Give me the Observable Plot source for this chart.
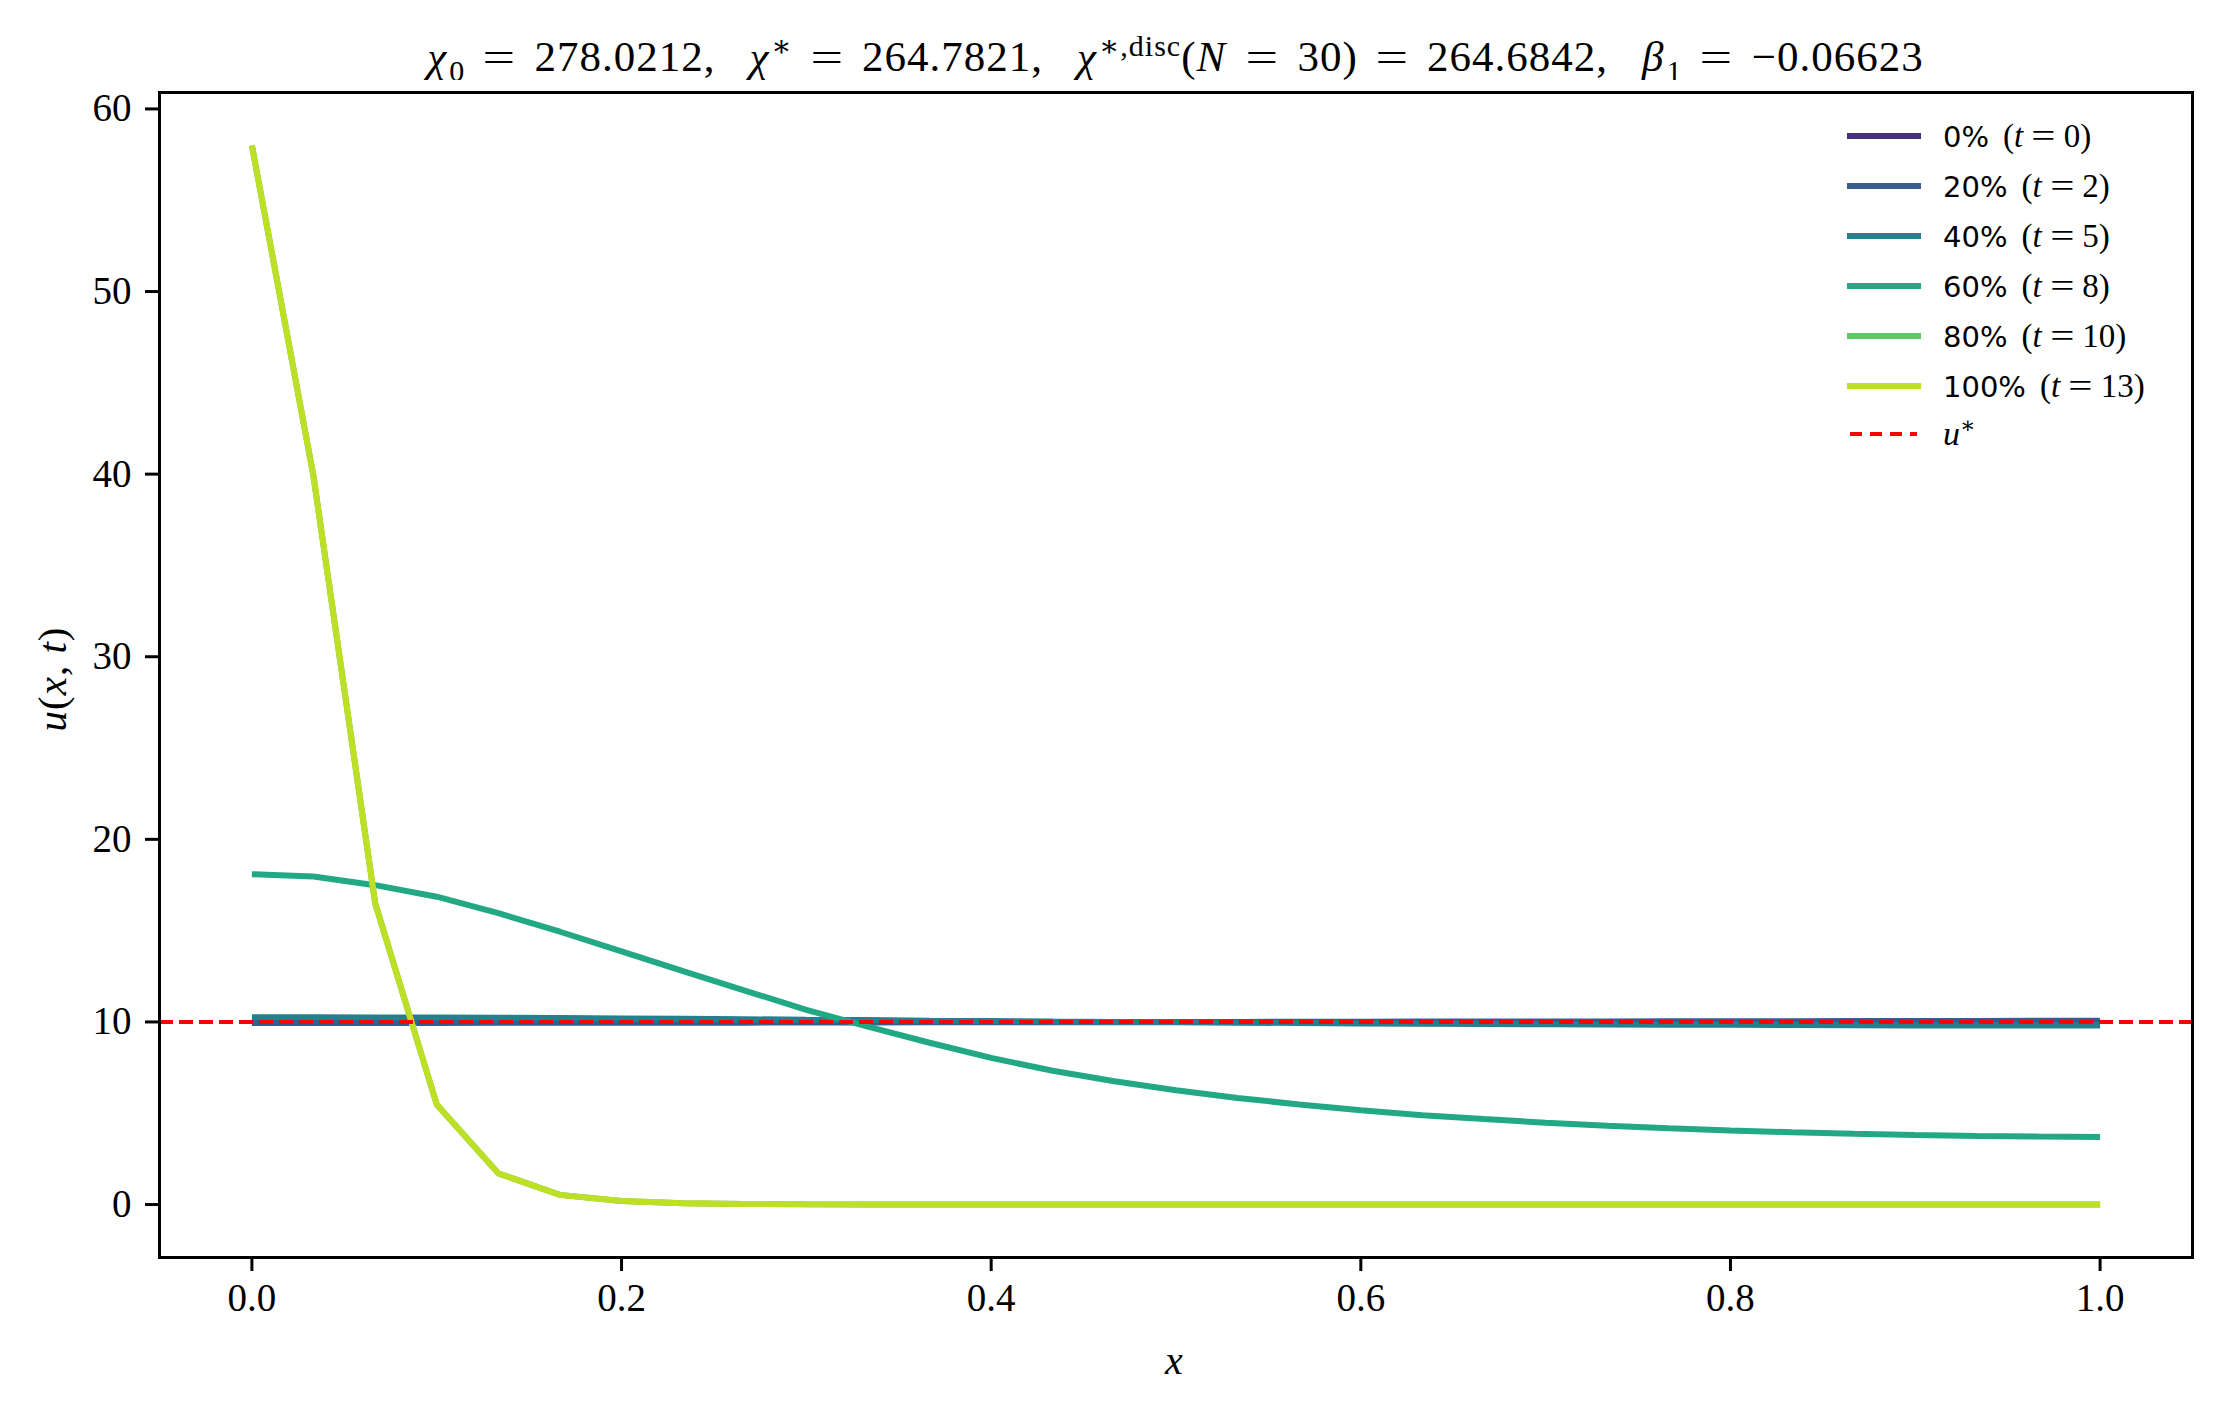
<!DOCTYPE html>
<html>
<head>
<meta charset="utf-8">
<script src="https://cdn.jsdelivr.net/npm/d3@7"></script>
<script src="https://cdn.jsdelivr.net/npm/@observablehq/plot@0.6"></script>
<style>
  html, body { margin: 0; padding: 0; background: #fff; }
  #wrap { position: relative; width: 2220px; height: 1409px; overflow: hidden; background: #fff; }
  .serif { font-family: "Liberation Serif", "DejaVu Serif", serif; }
  #title { position: absolute; left: 159px; width: 2033px; top: 35px; text-align: center; font-size: 43px; line-height: 43px; letter-spacing: 1px; color: #000; white-space: nowrap; }
  #title .eq { display: inline-block; margin: 0 22px; transform: scaleX(1.35); }
  #title .gap { display: inline-block; width: 34px; }
  #title i { margin-right: 2px; }
  #chart { position: absolute; left: 0; top: 80px; }
  #legend { position: absolute; left: 1847px; top: 111px; }
  .row { position: absolute; left: 0; height: 50px; width: 360px; display: flex; align-items: center; }
  .sample { position: absolute; left: 0; width: 74px; }
  .lbl { position: absolute; left: 96px; white-space: nowrap; font-size: 29px; color: #000; }
  .sans { font-family: "DejaVu Sans", sans-serif; margin-right: 14px; }
  .lbl .eq { display: inline-block; margin: 0 11px; transform: scaleX(1.3); }
  #ylabel { position: absolute; left: 52px; top: 679px; transform: translate(-50%, -50%) rotate(-90deg); font-size: 41px; letter-spacing: 1px; white-space: nowrap; }
  #xlabel { position: absolute; left: 1174px; top: 1337px; transform: translateX(-50%); font-size: 40px; }
  sub, sup { line-height: 0; }
</style>
</head>
<body>
<div id="wrap">
  <div id="title" class="serif"><i>χ</i><sub style="font-size:30px">0</sub><span class="eq">=</span>278.0212,<span class="gap"></span><i>χ</i><sup style="font-size:30px">∗</sup><span class="eq">=</span>264.7821,<span class="gap"></span><i>χ</i><sup style="font-size:30px">∗,disc</sup>(<i>N</i><span class="eq">=</span>30)<span class="eq">=</span>264.6842,<span class="gap"></span><i>β</i><sub style="font-size:30px">1</sub><span class="eq">=</span>−0.06623</div>
  <div id="chart"></div>
  <div id="legend"></div>
  <div id="ylabel" class="serif"><i>u</i>(<i>x</i>, <i>t</i>)</div>
  <div id="xlabel" class="serif"><i>x</i></div>
</div>
<script>
// ---- data ----
const xs = [0, 0.0333, 0.0667, 0.1, 0.1333, 0.1667, 0.2, 0.2333, 0.2667, 0.3, 0.3333,
            0.3667, 0.4, 0.4333, 0.4667, 0.5, 0.5333, 0.5667, 0.6, 0.6333, 0.6667,
            0.7, 0.7333, 0.7667, 0.8, 0.8333, 0.8667, 0.9, 0.9333, 0.9667, 1];

const u0   = [10, 10, 10, 10, 10, 10, 10, 10, 10, 10, 10, 10, 10, 10, 10, 10,
              10, 10, 10, 10, 10, 10, 10, 10, 10, 10, 10, 10, 10, 10, 10];
const u20  = [9.94, 9.94, 9.94, 9.94, 9.95, 9.95, 9.95, 9.96, 9.96, 9.97, 9.97,
              9.98, 9.98, 9.99, 9.99, 10.0, 10.0, 10.01, 10.01, 10.02, 10.02,
              10.03, 10.03, 10.04, 10.04, 10.04, 10.05, 10.05, 10.05, 10.06, 10.06];
const u40  = [10.26, 10.26, 10.25, 10.24, 10.23, 10.21, 10.19, 10.17, 10.15, 10.12, 10.10,
              10.07, 10.05, 10.02, 10.0, 9.98, 9.96, 9.94, 9.92, 9.90, 9.89,
              9.87, 9.86, 9.85, 9.84, 9.83, 9.82, 9.81, 9.81, 9.80, 9.80];
const u60  = [18.09, 17.97, 17.49, 16.86, 15.96, 14.94, 13.87, 12.78, 11.72, 10.66, 9.74,
              8.86, 8.03, 7.33, 6.75, 6.26, 5.84, 5.48, 5.17, 4.89, 4.68,
              4.48, 4.32, 4.18, 4.06, 3.96, 3.88, 3.81, 3.76, 3.72, 3.70];
const u80  = [58.0, 39.9, 16.5, 5.48, 1.71, 0.53, 0.2, 0.07, 0.03, 0.01, 0.005,
              0, 0, 0, 0, 0, 0, 0, 0, 0, 0, 0, 0, 0, 0, 0, 0, 0, 0, 0, 0];
const u100 = [58.0, 39.9, 16.5, 5.48, 1.71, 0.53, 0.2, 0.07, 0.03, 0.01, 0.005,
              0, 0, 0, 0, 0, 0, 0, 0, 0, 0, 0, 0, 0, 0, 0, 0, 0, 0, 0, 0];

const seriesNames = ["0%", "20%", "40%", "60%", "80%", "100%"];
const seriesT     = ["0", "2", "5", "8", "10", "13"];
const seriesColors = ["#46337e", "#365d8d", "#277f8e", "#22a884", "#5ec962", "#bddf26"];
const uStar = 10;
const xTicks = [0, 0.2, 0.4, 0.6, 0.8, 1.0];
const yTicks = [0, 10, 20, 30, 40, 50, 60];

// ---- table ----
const allSeries = [u0, u20, u40, u60, u80, u100];
const rows = [];
allSeries.forEach((vals, s) => {
  vals.forEach((v, i) => rows.push({x: xs[i], u: v, series: seriesNames[s]}));
});

const chart = Plot.plot({
  width: 2220,
  height: 1329,
  marginLeft: 159,
  marginRight: 28,
  marginTop: 12,
  marginBottom: 152,
  x: {domain: [-0.05, 1.05]},
  y: {domain: [-2.9, 60.9]},
  color: {type: "ordinal", domain: seriesNames, range: seriesColors},
  style: {fontFamily: "'Liberation Serif', 'DejaVu Serif', serif", fontSize: "39px", background: "white", color: "black", overflow: "visible"},
  marks: [
    Plot.line(rows, {x: "x", y: "u", z: "series", stroke: "series", strokeWidth: 6, strokeLinejoin: "miter", strokeLinecap: "butt"}),
    Plot.ruleY([uStar], {stroke: "#ff0000", strokeWidth: 4, strokeDasharray: "14,6"}),
    Plot.frame({stroke: "black", strokeWidth: 3}),
    Plot.axisX({ticks: xTicks, tickFormat: d => d.toFixed(1), tickSize: 14, tickPadding: 12, strokeWidth: 3, label: null}),
    Plot.axisY({ticks: yTicks, tickFormat: d => String(d), tickSize: 14, tickPadding: 14, strokeWidth: 3, label: null})
  ]
});
document.getElementById("chart").appendChild(chart);

// ---- legend ----
const legend = document.getElementById("legend");
seriesNames.forEach((name, i) => {
  const row = document.createElement("div");
  row.className = "row";
  row.style.top = (i * 50) + "px";
  row.innerHTML = `<div class="sample" style="height:6px;background:${seriesColors[i]};top:22px"></div>
    <div class="lbl"><span class="sans">${name}</span><span class="serif" style="font-size:33px">(<i>t</i><span class="eq">=</span>${seriesT[i]})</span></div>`;
  legend.appendChild(row);
});
const rowU = document.createElement("div");
rowU.className = "row";
rowU.style.top = (6 * 50 - 2) + "px";
rowU.innerHTML = `<svg class="sample" width="74" height="50" style="top:0"><line x1="3" x2="70" y1="25" y2="25" stroke="#ff0000" stroke-width="4" stroke-dasharray="12,8"/></svg>
  <div class="lbl serif" style="font-size:34px"><i>u</i><sup style="font-size:23px">∗</sup></div>`;
legend.appendChild(rowU);
</script>
</body>
</html>
